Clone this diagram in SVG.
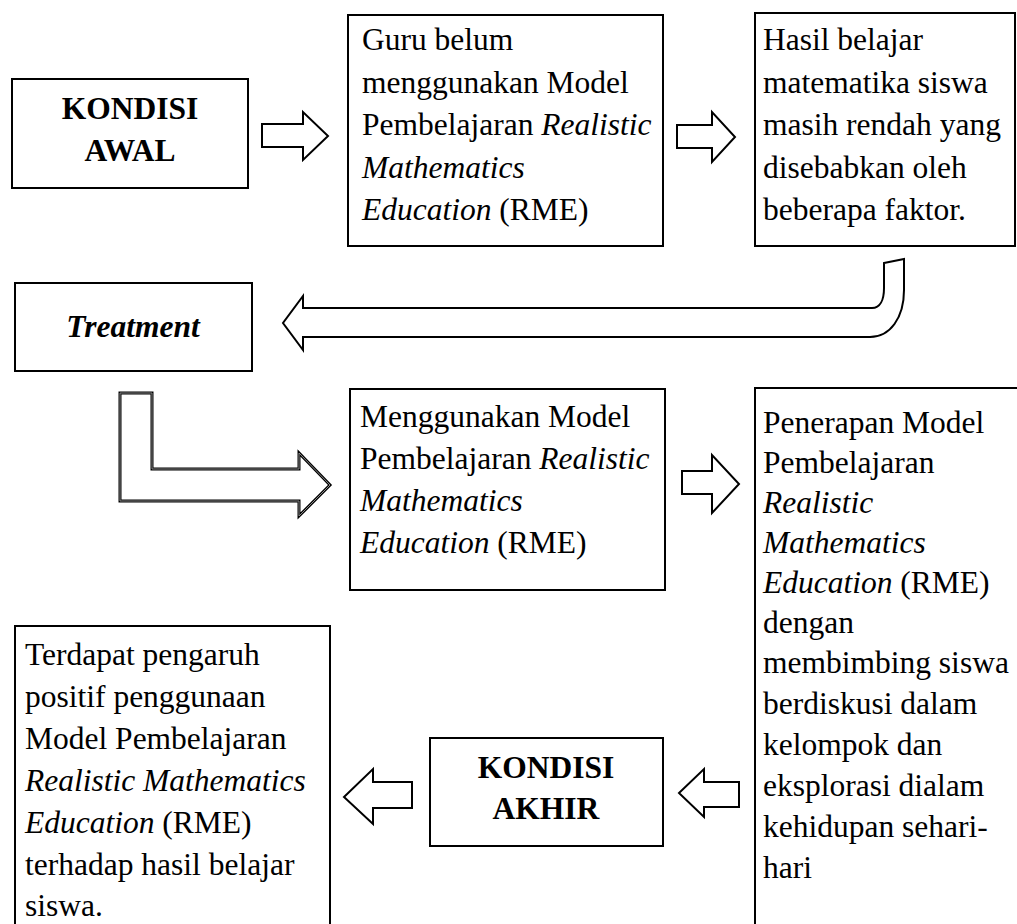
<svg xmlns="http://www.w3.org/2000/svg" width="1017" height="924" viewBox="0 0 1017 924">
<style>
.box{fill:#fff;stroke:#000;stroke-width:2}
.t{font-family:"Liberation Serif","Times New Roman",serif;font-size:31.5px;fill:#000}
.b{font-weight:bold}
.i{font-style:italic}
.c{text-anchor:middle}
.arr{fill:#fff;stroke:#000;stroke-width:2;stroke-linejoin:miter}
.dbl{fill:#fff;stroke:#000;stroke-width:3;stroke-linejoin:miter}
.dbl2{fill:none;stroke:#888;stroke-width:1;stroke-linejoin:miter}
</style>
<rect width="1017" height="924" fill="#fff"/>

<g id="connectors">
  <path class="arr" d="M262,124 L303,124 L303,112 L328,136 L303,160 L303,147 L262,147 Z"/>
  <path class="arr" d="M677,125 L712,125 L712,112 L735,137 L712,162 L712,148 L677,148 Z"/>
  <path class="arr" d="M884,263 L904,259 L904,290 C904,318 890,337 870,337 L303,337 L303,350 L283,323 L303,296 L303,308 L872,308 C880,308 884,300 884,288 Z"/>
  <path class="dbl" d="M120,393 L152,393 L152,469 L299,469 L299,453 L330,485 L299,516 L299,501 L120,501 Z"/>
  <path class="dbl2" d="M120,393 L152,393 L152,469 L299,469 L299,453 L330,485 L299,516 L299,501 L120,501 Z"/>
  <path class="arr" d="M682,471 L712,471 L712,455 L739,484 L712,513 L712,494 L682,494 Z"/>
  <path class="arr" d="M739,782 L704,782 L704,769 L679,793 L704,817 L704,807 L739,807 Z"/>
  <path class="arr" d="M412,782 L373,782 L373,769 L344,797 L373,824 L373,808 L412,808 Z"/>
</g>

<g id="kondisi-awal">
  <rect class="box" x="12" y="79" width="236" height="109"/>
  <text class="t b c" x="130" y="119">KONDISI</text>
  <text class="t b c" x="130" y="161">AWAL</text>
</g>

<g id="guru">
  <rect class="box" x="348" y="15" width="315" height="231"/>
  <text class="t" x="362" y="50">Guru belum</text>
  <text class="t" x="362" y="92.5">menggunakan Model</text>
  <text class="t" x="362" y="135">Pembelajaran <tspan class="i">Realistic</tspan></text>
  <text class="t i" x="362" y="177.5">Mathematics</text>
  <text class="t" x="362" y="220"><tspan class="i">Education</tspan> (RME)</text>
</g>

<g id="hasil">
  <rect class="box" x="755" y="13" width="260" height="233"/>
  <text class="t" x="763" y="50">Hasil belajar</text>
  <text class="t" x="763" y="92.5">matematika siswa</text>
  <text class="t" x="763" y="135">masih rendah yang</text>
  <text class="t" x="763" y="177.5">disebabkan oleh</text>
  <text class="t" x="763" y="220">beberapa faktor.</text>
</g>

<g id="treatment">
  <rect class="box" x="15" y="283" width="237" height="88"/>
  <text class="t b i c" x="133" y="337">Treatment</text>
</g>

<g id="menggunakan">
  <rect class="box" x="350" y="389" width="315" height="201"/>
  <text class="t" x="360" y="427">Menggunakan Model</text>
  <text class="t" x="360" y="469">Pembelajaran <tspan class="i">Realistic</tspan></text>
  <text class="t i" x="360" y="511">Mathematics</text>
  <text class="t" x="360" y="553"><tspan class="i">Education</tspan> (RME)</text>
</g>

<g id="penerapan">
  <rect class="box" x="755" y="388" width="270" height="560"/>
  <text class="t" x="763" y="433">Penerapan Model</text>
  <text class="t" x="763" y="473">Pembelajaran</text>
  <text class="t i" x="763" y="513">Realistic</text>
  <text class="t i" x="763" y="553">Mathematics</text>
  <text class="t" x="763" y="593"><tspan class="i">Education</tspan> (RME)</text>
  <text class="t" x="763" y="633">dengan</text>
  <text class="t" x="763" y="673">membimbing siswa</text>
  <text class="t" x="763" y="714">berdiskusi dalam</text>
  <text class="t" x="763" y="755">kelompok dan</text>
  <text class="t" x="763" y="796">eksplorasi dialam</text>
  <text class="t" x="763" y="837">kehidupan sehari-</text>
  <text class="t" x="763" y="878">hari</text>
</g>

<g id="kondisi-akhir">
  <rect class="box" x="430" y="738" width="233" height="108"/>
  <text class="t b c" x="546" y="778">KONDISI</text>
  <text class="t b c" x="546" y="819">AKHIR</text>
</g>

<g id="terdapat">
  <rect class="box" x="15" y="626" width="315" height="320"/>
  <text class="t" x="25" y="665">Terdapat pengaruh</text>
  <text class="t" x="25" y="707">positif penggunaan</text>
  <text class="t" x="25" y="749">Model Pembelajaran</text>
  <text class="t i" x="25" y="791">Realistic Mathematics</text>
  <text class="t" x="25" y="833"><tspan class="i">Education</tspan> (RME)</text>
  <text class="t" x="25" y="875">terhadap hasil belajar</text>
  <text class="t" x="25" y="916">siswa.</text>
</g>
</svg>
